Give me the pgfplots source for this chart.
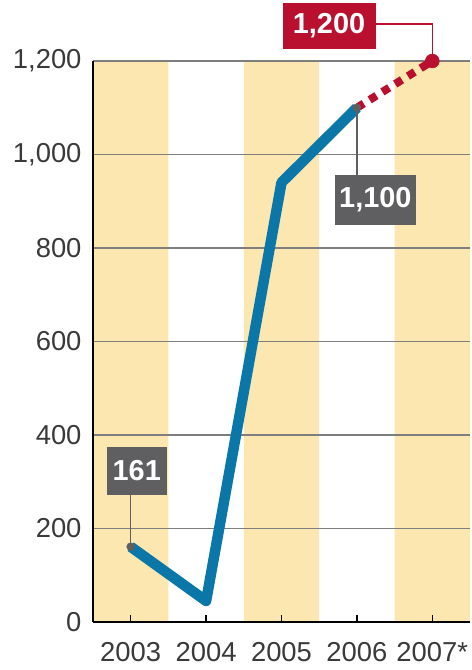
\documentclass[border=0pt]{standalone}
\usepackage{fontspec}
\setmainfont{Liberation Sans}
\usepackage{pgfplots}
\pgfplotsset{compat=1.18}
\definecolor{band}{HTML}{FDE7B0}
\definecolor{lineblue}{HTML}{0B77A8}
\definecolor{redc}{HTML}{B8102E}
\definecolor{boxgray}{HTML}{5F5F61}
\definecolor{gridgray}{HTML}{7E7E7E}
\definecolor{ticktext}{HTML}{3A3A3A}
\begin{document}
\begin{tikzpicture}
\begin{axis}[
  name=ax, set layers, clip=false,
  scale only axis, width=377bp, height=561bp,
  xmin=-0.5, xmax=4.5, ymin=0, ymax=1200,
  xtick={0,1,2,3,4}, xticklabels={2003,2004,2005,2006,2007*},
  ytick={0,200,400,600,800,1000,1200},
  axis x line*=bottom, axis y line*=left,
  axis line style={line width=2.5bp, black, -},
  ymajorgrids, grid style={gridgray, line width=1.5bp},
  xtick align=inside, major tick length=7bp,
  xtick style={black, line width=1.3bp},
  ytick style={draw=none},
  ticklabel style={font=\fontsize{27.5}{30}\selectfont, text=ticktext},
  xticklabel style={yshift=-17bp},
  yticklabel style={xshift=-8bp},
  /pgf/number format/.cd, 1000 sep={,}, assume math mode=true,
]
\addplot[on layer=axis background, ybar, bar width=1, bar shift=0pt, fill=band, draw=none] coordinates {(0,1200)(2,1200)(4,1200)};
\addplot[redc, line width=8bp, dash pattern=on 8bp off 7bp] coordinates {(3,1100)(4,1200)};
\addplot[lineblue, line width=10.5bp, line join=round] coordinates {(0,161)(1,45)(2,940)(3,1100)};
\addplot[only marks, mark=*, mark size=4bp, boxgray, mark options={draw=none}] coordinates {(0,161)(3,1100)};
\addplot[only marks, mark=*, mark size=7bp, redc, mark options={draw=none}] coordinates {(4,1200)};
\draw[boxgray, line width=1.3bp] (axis cs:0,161) -- (axis cs:0,323);
\node[fill=boxgray, text=white, minimum width=60bp, minimum height=48bp, inner sep=0pt,
  font=\bfseries\fontsize{29}{30}\selectfont] at (axis cs:0.08,323) {161};
\draw[boxgray, line width=1.3bp] (axis cs:3,1100) -- (axis cs:3,903);
\node[fill=boxgray, text=white, minimum width=81bp, minimum height=50bp, inner sep=0pt,
  font=\bfseries\fontsize{29}{30}\selectfont] at (axis cs:3.245,903) {1,100};
\draw[redc, line width=1.3bp] (axis cs:2.63,1279) -| (axis cs:4,1200);
\node[fill=redc, text=white, minimum width=93bp, minimum height=46bp, inner sep=0pt,
  font=\bfseries\fontsize{29}{30}\selectfont] at (axis cs:2.63,1275) {1,200};
\end{axis}
\pgfresetboundingbox
\path[use as bounding box] ([shift={(-93bp,-48bp)}]ax.south west) rectangle ([shift={(2bp,61bp)}]ax.north east);
\end{tikzpicture}
\end{document}
